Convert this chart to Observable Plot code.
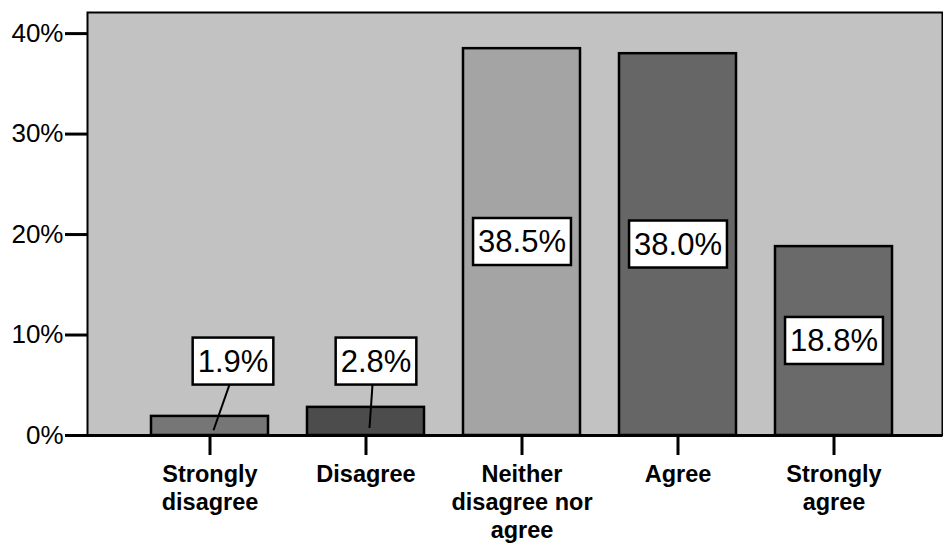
<!DOCTYPE html>
<html><head><meta charset="utf-8">
<script src="https://cdn.jsdelivr.net/npm/d3@7"></script>
<script src="https://cdn.jsdelivr.net/npm/@observablehq/plot@0.6"></script>
<style>
html,body{margin:0;padding:0;background:#fff;}
#chart svg{display:block;}
</style></head><body><div id="chart"></div>
<script>
const categories = ["Strongly disagree","Disagree","Neither disagree nor agree","Agree","Strongly agree"];
const tickLabels = ["Strongly\ndisagree","Disagree","Neither\ndisagree nor\nagree","Agree","Strongly\nagree"];
const shares = [1.9, 2.8, 38.5, 38.0, 18.8];
const yTicks = [0, 10, 20, 30, 40];
const yTickLabels = ["0%","10%","20%","30%","40%"];

// styling (not data)
const barColors = ["#767676","#4c4c4c","#a4a4a4","#666666","#6a6a6a"];
const calloutDx = {"Strongly disagree": 23, "Disagree": 10};
const OUT_Y = 7.35;
const FONT = "'Liberation Sans', Arial, sans-serif";

const data = categories.map((c, i) => ({category: c, share: shares[i]}));
const inside = data.filter(d => d.share > 5);
const outside = data.filter(d => d.share <= 5);
const fmt = d => d.share.toFixed(1) + "%";

const plot = Plot.plot({
  width: 943, height: 544,
  marginLeft: 87, marginRight: 1, marginTop: 12, marginBottom: 109,
  style: {fontFamily: FONT, color: "#000", background: "#fff", overflow: "visible"},
  x: {domain: categories, paddingInner: 0.25, paddingOuter: 0.125, insetLeft: 43, insetRight: 30, label: null},
  y: {domain: [0, 42.1], label: null},
  color: {domain: categories, range: barColors},
  marks: [
    Plot.frame({fill: "#c2c2c2", stroke: "#000", strokeWidth: 2}),
    Plot.barY(data, {x: "category", y: "share", fill: "category", stroke: "#000", strokeWidth: 2.5}),
    Plot.ruleY([0], {stroke: "#000", strokeWidth: 3}),
    Plot.axisY(yTicks, {tickSize: 22, tickPadding: 2, strokeWidth: 3, fontSize: 26,
      tickFormat: d => yTickLabels[yTicks.indexOf(d)], label: null}),
    Plot.axisX({tickSize: 20, tickPadding: 7, strokeWidth: 3, fontSize: 23.5, fontWeight: "bold",
      lineHeight: 1.18, tickFormat: d => tickLabels[categories.indexOf(d)], label: null}),
    Plot.text(inside, {x: "category", y: d => d.share / 2, text: fmt, fontSize: 31, fill: "#000", ariaDescription: "value-label"}),
    ...outside.map(d => Plot.text([d], {x: "category", y: () => OUT_Y, text: fmt, fontSize: 31, fill: "#000",
      dx: calloutDx[d.category], ariaDescription: "value-label"}))
  ]
});
document.getElementById("chart").appendChild(plot);

const ns = "http://www.w3.org/2000/svg";
d3.select(plot).selectAll('g[aria-description="value-label"] text').each(function () {
  const b = this.getBBox();
  const cy = b.y + b.height / 2;
  const r = document.createElementNS(ns, "rect");
  r.setAttribute("x", b.x - 5);
  r.setAttribute("width", b.width + 10);
  r.setAttribute("y", cy - 23.5);
  r.setAttribute("height", 47);
  r.setAttribute("fill", "#fff");
  r.setAttribute("stroke", "#000");
  r.setAttribute("stroke-width", 2.5);
  const t = this.getAttribute("transform");
  if (t) r.setAttribute("transform", t);
  this.parentNode.insertBefore(r, this);
});

const xs = plot.scale("x"), ys = plot.scale("y");
const g = d3.select(plot).append("g").attr("aria-label", "callout-leaders");
outside.forEach(d => {
  const c = xs.apply(d.category) + xs.bandwidth / 2;
  g.append("line")
    .attr("x1", c + calloutDx[d.category] - 3).attr("y1", ys.apply(OUT_Y) + 23.5)
    .attr("x2", c + 4).attr("y2", ys.apply(d.share / 4))
    .attr("stroke", "#000").attr("stroke-width", 2);
});
</script></body></html>
